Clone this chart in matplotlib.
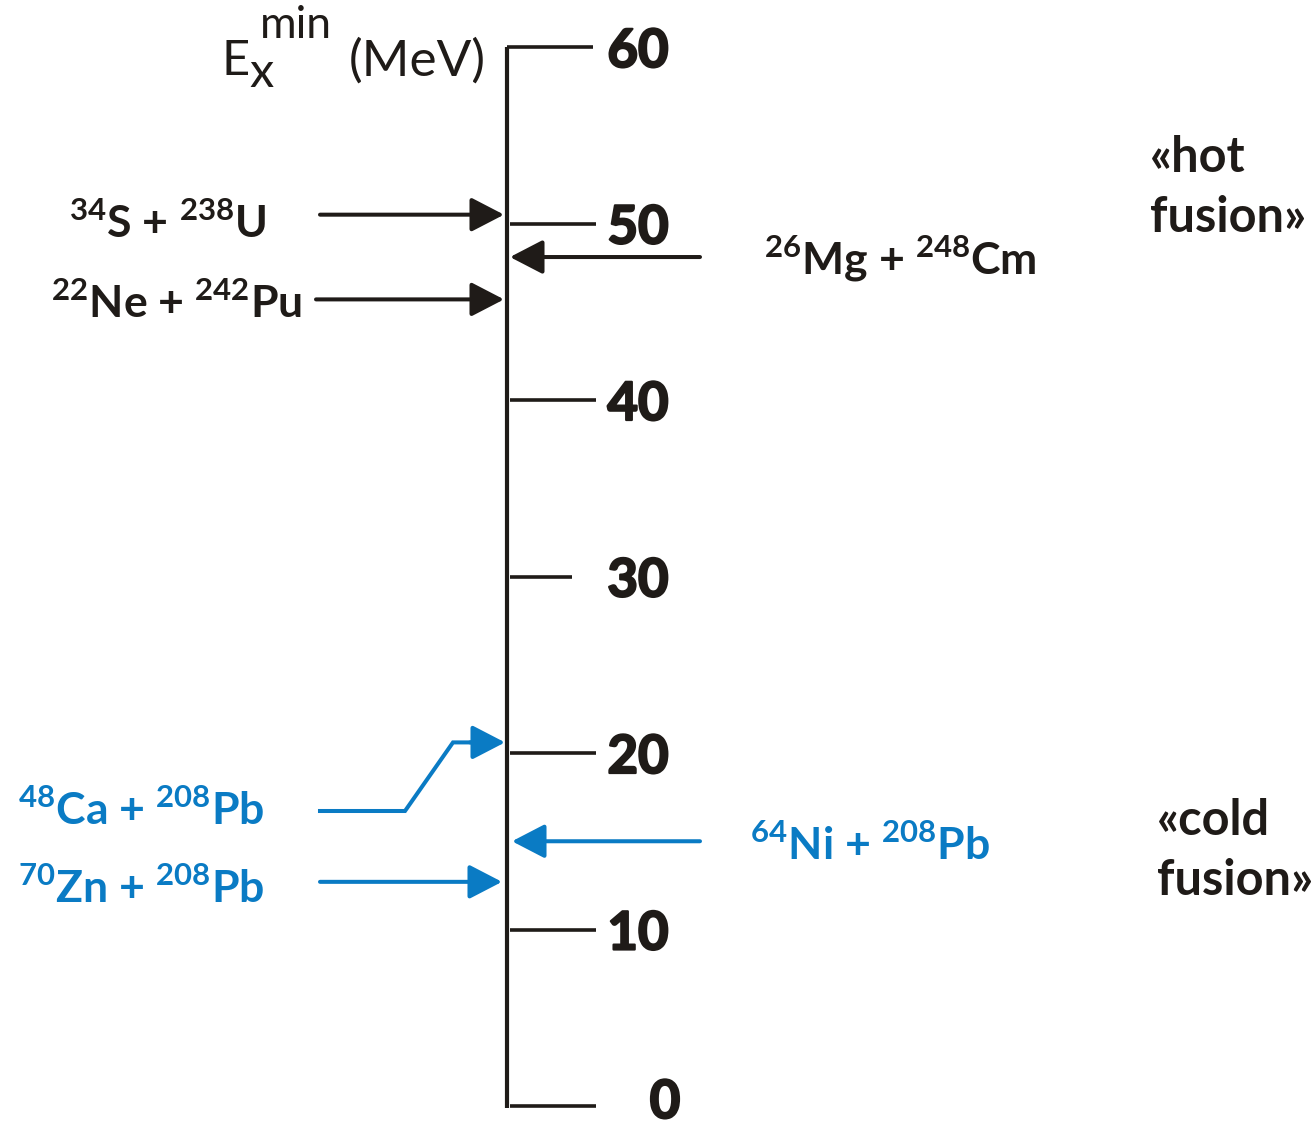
import matplotlib
matplotlib.use("Agg")
import matplotlib.pyplot as plt
import matplotlib.patheffects as pe

plt.rcParams['font.family'] = ['Lato', 'DejaVu Sans']
plt.rcParams['mathtext.fontset'] = 'custom'
plt.rcParams['mathtext.rm'] = 'Lato'
plt.rcParams['mathtext.bf'] = 'Lato:bold'

# data: minimal excitation energy E_x^min (MeV) of the compound nucleus
hot_labels = [r'$^{\mathbf{34}}$S + $^{\mathbf{238}}$U',
              r'$^{\mathbf{22}}$Ne + $^{\mathbf{242}}$Pu',
              r'$^{\mathbf{26}}$Mg + $^{\mathbf{248}}$Cm']
hot_ex = [50.5, 45.7, 48.1]
cold_labels = [r'$^{\mathbf{48}}$Ca + $^{\mathbf{208}}$Pb',
               r'$^{\mathbf{70}}$Zn + $^{\mathbf{208}}$Pb',
               r'$^{\mathbf{64}}$Ni + $^{\mathbf{208}}$Pb']
cold_ex = [20.6, 12.7, 15.0]
ticks = [0, 10, 20, 30, 40, 50, 60]

BLACK = '#1f1b18'
BLUE = '#0a7bc4'

W, H = 1316, 1128
fig = plt.figure(figsize=(W / 100, H / 100), dpi=100)
ax = fig.add_axes([0, 0, 1, 1])
ax.axis('off')

# pixel rows of 0 and 60 MeV on the scale
y0_px, y60_px = 1106, 47
per_mev = (y0_px - y60_px) / 60.0
ax.set_xlim(0, W)
ax.set_ylim(-(H - y0_px) / per_mev, 60 + y60_px / per_mev)


def mev(row):
    """pixel row -> data y (for placing labels)"""
    return (y0_px - row) / per_mev


# vertical scale
ax.plot([507, 507], [mev(1108), 60], color=BLACK, lw=3, solid_capstyle='butt')
ax.plot([507, 593], [60, 60], color=BLACK, lw=2.6, solid_capstyle='butt')
tick_end = {30: 572}
for t in ticks[:-1]:
    ax.plot([510, tick_end.get(t, 596)], [t, t], color=BLACK, lw=2.6,
            solid_capstyle='butt')
heavy = [pe.withStroke(linewidth=1.6, foreground=BLACK)]
for t in ticks:
    tx, ty = (665, mev(1098)) if t == 0 else (638, t)
    ax.text(tx, ty, str(t), ha='center', va='center_baseline', fontsize=38,
            fontweight='bold', color=BLACK, path_effects=heavy)

# axis title E_x^min (MeV)
title_kw = dict(color=BLACK, va='baseline', ha='left')
ax.text(221, mev(75), 'E', fontsize=35, **title_kw)
ax.text(249, mev(87), 'x', fontsize=35, **title_kw)
ax.text(260, mev(38), 'min', fontsize=32, **title_kw)
ax.text(349, mev(76), '(MeV)', fontsize=37, **title_kw)

arrow_kw = dict(arrowstyle='-|>,head_length=1.35,head_width=0.7',
                lw=2.9, mutation_scale=15, shrinkA=0, shrinkB=0)


def arrow(x0, x1, e, color):
    ax.annotate('', xy=(x1, e), xytext=(x0, e),
                arrowprops=dict(color=color, **arrow_kw))


lab_kw = dict(fontsize=32, fontweight='bold', va='baseline')

# hot fusion
arrow(320, 504, hot_ex[0], BLACK)
ax.text(266, mev(238), hot_labels[0], ha='right', color=BLACK, **lab_kw)
arrow(316, 504, hot_ex[1], BLACK)
ax.text(302, mev(318), hot_labels[1], ha='right', color=BLACK, **lab_kw)
arrow(700, 510, hot_ex[2], BLACK)
ax.text(764, mev(274), hot_labels[2], ha='left', color=BLACK, **lab_kw)

# cold fusion
ca_row = 811
ax.plot([320, 405, 453, 480], [mev(ca_row), mev(ca_row), cold_ex[0], cold_ex[0]],
        color=BLUE, lw=2.9, solid_joinstyle='miter')
arrow(470, 505, cold_ex[0], BLUE)
ax.text(264, mev(825), cold_labels[0], ha='right', color=BLUE, **lab_kw)
arrow(320, 502, cold_ex[1], BLUE)
ax.text(264, mev(903), cold_labels[1], ha='right', color=BLUE, **lab_kw)
arrow(700, 512, cold_ex[2], BLUE)
ax.text(750, mev(860), cold_labels[2], ha='left', color=BLUE, **lab_kw)

grp_kw = dict(ha='left', va='baseline', fontsize=35, fontweight='bold',
              color=BLACK, linespacing=1.4)
ax.text(1150, mev(232), '«hot\nfusion»', **grp_kw)
ax.text(1157, mev(895), '«cold\nfusion»', **grp_kw)

fig.savefig('out.png', dpi=100, facecolor='white')
